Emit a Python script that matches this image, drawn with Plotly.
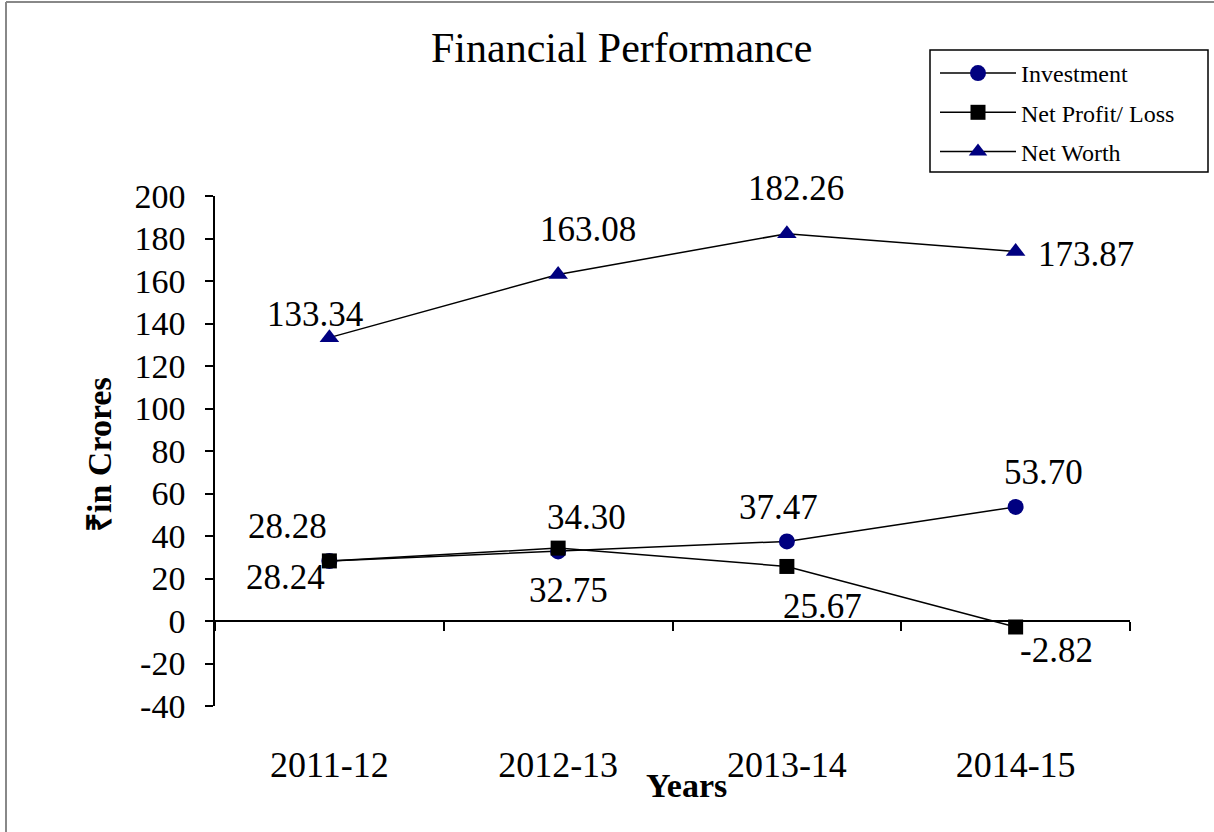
import plotly.graph_objects as go

years = ["2011-12", "2012-13", "2013-14", "2014-15"]
investment = [28.24, 32.75, 37.47, 53.70]
net_profit = [28.28, 34.30, 25.67, -2.82]
net_worth = [133.34, 163.08, 182.26, 173.87]
y_ticks = [-40, -20, 0, 20, 40, 60, 80, 100, 120, 140, 160, 180, 200]

# label offsets (pixels) -- styling only
inv_shift = [(-44, -17), (10, -39), (-8, 34), (28, 34)]
np_shift = [(-42, 34), (28, 31), (36, -40), (41, -24)]
nw_shift = [(-14, 23), (30, 45), (9, 45), (70, -3)]

FONT = "Liberation Serif, Times New Roman, serif"
NAVY = "#000080"
W, H = 1214, 832
L, R, T, B = 215, 84, 196, 126
PW, PH = W - L - R, H - T - B
YMIN, YMAX = -40, 200

def px_x(p):
    return (p - L) / PW

def px_y(p):
    return (H - B - p) / PH

fig = go.Figure()
fig.add_trace(go.Scatter(x=years, y=investment, name="Investment", mode="lines+markers",
                         legendgroup="a",
                         line=dict(color="black", width=1.5),
                         marker=dict(symbol="circle", size=16, color=NAVY)))
fig.add_trace(go.Scatter(x=years, y=net_profit, name="Net Profit/ Loss", mode="lines+markers",
                         legendgroup="b",
                         line=dict(color="black", width=1.5),
                         marker=dict(symbol="square", size=15, color="black")))
fig.add_trace(go.Scatter(x=years, y=net_worth, name="Net Worth", mode="lines+markers",
                         legendgroup="c",
                         line=dict(color="black", width=1.5),
                         marker=dict(symbol="triangle-up", size=17, color=NAVY)))
# helper trace for the zero-crossing category axis
fig.add_trace(go.Scatter(x=years, y=[None] * len(years), xaxis="x2", showlegend=False,
                         hoverinfo="skip", mode="lines"))

ann = []
for series, shifts in ((investment, inv_shift), (net_profit, np_shift), (net_worth, nw_shift)):
    for yr, v, (dx, dy) in zip(years, series, shifts):
        ann.append(dict(x=yr, y=v, xref="x", yref="y", text=f"{v:.2f}", showarrow=False,
                        xshift=dx, yshift=dy, font=dict(family=FONT, size=35, color="black")))

ann.append(dict(text="Financial Performance", x=px_x(621), y=px_y(48), xref="paper", yref="paper",
                showarrow=False, xanchor="center", yanchor="middle",
                font=dict(family=FONT, size=42, color="black")))
ann.append(dict(text="<b>Years</b>", x=px_x(686), y=px_y(785), xref="paper", yref="paper",
                showarrow=False, xanchor="center", yanchor="middle",
                font=dict(family=FONT, size=34, color="black")))
ann.append(dict(text="<b>₹in Crores</b>", x=px_x(99), y=px_y(455), xref="paper", yref="paper",
                showarrow=False, xanchor="center", yanchor="middle", textangle=-90,
                font=dict(family=FONT, size=34, color="black")))

zero_pos = (0 - YMIN) / (YMAX - YMIN)

fig.update_layout(
    width=W, height=H,
    margin=dict(l=L, r=R, t=T, b=B),
    paper_bgcolor="white", plot_bgcolor="white",
    font=dict(family=FONT, color="black"),
    showlegend=True,
    legend=dict(x=px_x(935), y=px_y(51), xanchor="left", yanchor="top",
                borderwidth=0, bgcolor="rgba(0,0,0,0)",
                font=dict(family=FONT, size=24, color="black"),
                tracegroupgap=5, itemwidth=76),
    xaxis=dict(type="category", categoryorder="array", categoryarray=years,
               range=[-0.5, len(years) - 0.5], showline=False, ticks="", showgrid=False,
               zeroline=False, tickfont=dict(family=FONT, size=36, color="black"),
               ticklabelstandoff=34),
    xaxis2=dict(type="category", categoryorder="array", categoryarray=years,
                range=[-0.5, len(years) - 0.5], overlaying="x", anchor="free", position=zero_pos,
                showline=True, linecolor="black", linewidth=1.5, ticks="outside",
                tickson="boundaries", ticklen=9, tickwidth=1.5, tickcolor="black",
                showticklabels=False, showgrid=False, zeroline=False),
    yaxis=dict(range=[YMIN, YMAX], tickvals=y_ticks, ticktext=[str(v) for v in y_ticks],
               showline=True, linecolor="black",
               linewidth=1.5, ticks="outside", ticklen=8, tickwidth=1.5, tickcolor="black",
               showgrid=False, zeroline=False,
               tickfont=dict(family=FONT, size=34, color="black"), ticklabelstandoff=13),
    annotations=ann,
    shapes=[
        dict(type="line", xref="paper", yref="paper", x0=px_x(6), x1=px_x(W), y0=px_y(2), y1=px_y(2),
             line=dict(color="#888888", width=2)),
        dict(type="line", xref="paper", yref="paper", x0=px_x(6), x1=px_x(6), y0=px_y(2), y1=px_y(H),
             line=dict(color="#888888", width=2)),
        dict(type="rect", xref="paper", yref="paper", x0=px_x(930), x1=px_x(1208),
             y0=px_y(172), y1=px_y(50), line=dict(color="black", width=1.5),
             fillcolor="rgba(0,0,0,0)", layer="above"),
    ],
)

fig.write_html("out.html", config={"displayModeBar": False},
               post_script="document.body.style.margin='0';")
